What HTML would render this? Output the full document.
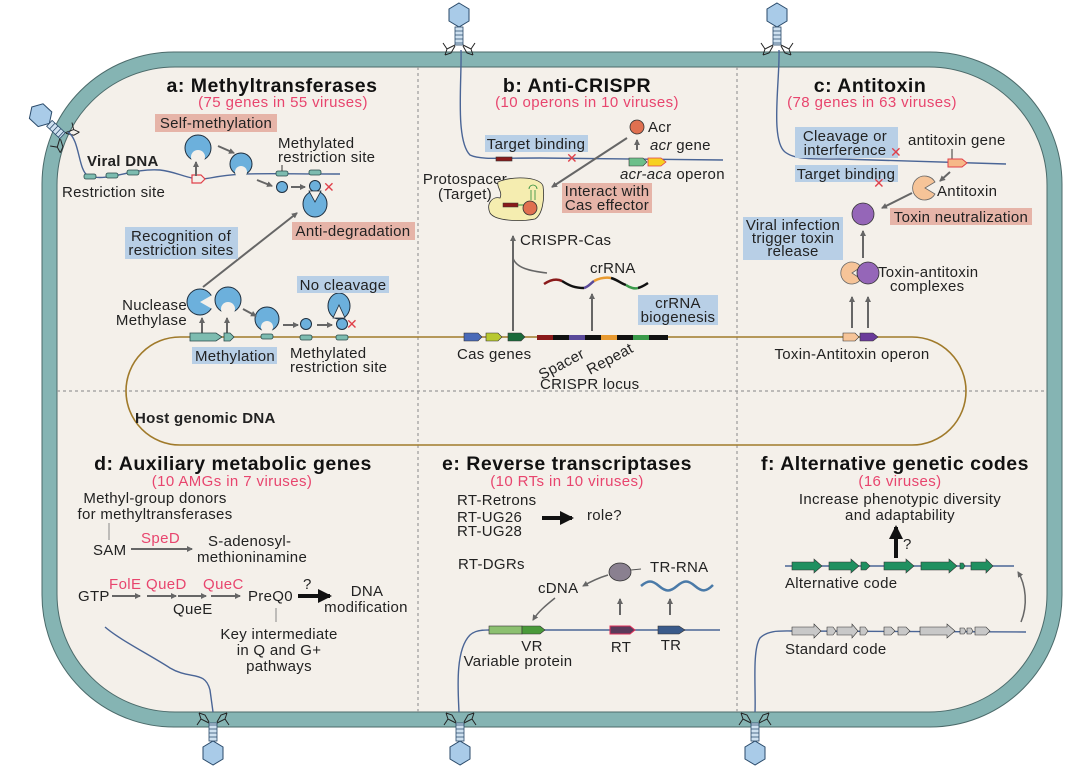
<!DOCTYPE html>
<html><head><meta charset="utf-8"><style>
html,body{margin:0;padding:0;background:#fff}
svg{display:block;font-family:"Liberation Sans",Arial,sans-serif}
.t{font-size:15px;fill:#222;letter-spacing:0.3px}
.h{font-size:19.5px;font-weight:bold;fill:#111;letter-spacing:0.5px}
.r{font-size:15px;fill:#e8456e;letter-spacing:0.4px}
.c{text-anchor:middle}
</style></head><body>
<svg width="1080" height="780" viewBox="0 0 1080 780" xmlns="http://www.w3.org/2000/svg">
<defs>
<marker id="ar" markerWidth="6" markerHeight="6" refX="5" refY="3" orient="auto" markerUnits="userSpaceOnUse"><path d="M0,0 L6,3 L0,6 Z" fill="#666"/></marker>
<marker id="ab" markerWidth="14" markerHeight="14" refX="12" refY="7" orient="auto" markerUnits="userSpaceOnUse"><path d="M0,0 L14,7 L0,14 Z" fill="#111"/></marker>
<g id="phage">
 <polygon points="0,-44 10,-38 10,-26 0,-20 -10,-26 -10,-38" fill="#a9cbe8" stroke="#2a4a6a" stroke-width="1"/>
 <rect x="-4" y="-20" width="8" height="18" fill="#cfe1f0" stroke="#2a4a6a" stroke-width="0.8"/>
 <path d="M-4,-16h8M-4,-12h8M-4,-8h8M-4,-4h8" stroke="#2a4a6a" stroke-width="0.8"/>
 <path d="M-4,-2 L-12,2 L-16,-4 M4,-2 L12,2 L16,-4 M-4,-1 L-8,6 L-14,8 M4,-1 L8,6 L14,8 M-12,2 L-14,8 M12,2 L14,8" stroke="#222" stroke-width="1" fill="none"/>
</g>
</defs>

<rect x="49.5" y="59.5" width="1005" height="660" rx="125" fill="#f4f0ea" stroke="#85b4b3" stroke-width="15"/>
<rect x="42" y="52" width="1020" height="675" rx="132" fill="none" stroke="#4b6a6a" stroke-width="1"/>
<rect x="57" y="67" width="990" height="645" rx="118" fill="none" stroke="#4b6a6a" stroke-width="1"/>

<g stroke="#9a9a9a" stroke-width="1.2" stroke-dasharray="3,3">
<line x1="418" y1="67" x2="418" y2="712"/><line x1="737" y1="67" x2="737" y2="712"/>
<line x1="57" y1="391" x2="1047" y2="391"/></g>

<rect x="126" y="337" width="840" height="108" rx="54" fill="none" stroke="#a07a2a" stroke-width="1.6"/>
<text x="135" y="423" class="t" style="font-weight:bold">Host genomic DNA</text>

<use href="#phage" transform="translate(459,47)"/>
<use href="#phage" transform="translate(777,47)"/>
<use href="#phage" transform="translate(64,137) rotate(-47)"/>
<use href="#phage" transform="translate(213,721) rotate(180)"/>
<use href="#phage" transform="translate(460,721) rotate(180)"/>
<use href="#phage" transform="translate(755,721) rotate(180)"/>

<!-- a -->
<text x="272" y="92" class="h c">a: Methyltransferases</text>
<text x="283" y="107" class="r c">(75 genes in 55 viruses)</text>
<rect x="155" y="114" width="122" height="18" fill="#e6b4a8"/>
<text x="216" y="128" class="t c">Self-methylation</text>
<path d="M68,132 C80,140 78,170 88,176 C110,182 130,168 160,170 C180,172 190,182 210,178 C240,172 260,174 340,174" fill="none" stroke="#4a6596" stroke-width="1.4"/>
<g fill="#7dbcb0" stroke="#2a4a4a" stroke-width="0.8">
<rect x="84" y="174" width="12" height="5" rx="2"/><rect x="106" y="173" width="12" height="5" rx="2"/><rect x="127" y="170" width="12" height="5" rx="2"/>
<rect x="235" y="170" width="12" height="5" rx="2"/><rect x="276" y="171" width="12" height="5" rx="2"/><rect x="309" y="170" width="12" height="5" rx="2"/></g>
<polygon points="192,175 201,175 205,179 201,183 192,183" fill="#f4f0ea" stroke="#e0404a" stroke-width="1.2"/>
<text x="87" y="166" class="t" style="font-weight:bold">Viral DNA</text>
<text x="62" y="197" class="t">Restriction site</text>
<g fill="#6cb0dc" stroke="#1e2e3e" stroke-width="1">
<circle cx="198" cy="148" r="13"/><circle cx="241" cy="164" r="11"/>
<circle cx="282" cy="187" r="5.5"/><circle cx="315" cy="186" r="5.5"/>
<ellipse cx="315" cy="204" rx="12" ry="13"/>
<circle cx="200" cy="302" r="13"/><circle cx="228" cy="300" r="13"/><circle cx="267" cy="319" r="12"/>
<circle cx="306" cy="324" r="5.5"/><circle cx="342" cy="324" r="5.5"/>
<ellipse cx="339" cy="306" rx="11" ry="13"/></g>
<g fill="#f4f0ea"><circle cx="198" cy="157" r="7"/><circle cx="241" cy="172" r="6"/><circle cx="228" cy="309" r="7"/><circle cx="267" cy="327" r="6"/></g>
<polygon points="200,302 214,294 214,310" fill="#f4f0ea"/>
<polygon points="309,191 321,191 315,202" fill="#f4f0ea" stroke="#1e2e3e" stroke-width="0.8"/>
<polygon points="333,318 345,318 339,305" fill="#f4f0ea" stroke="#1e2e3e" stroke-width="0.8"/>
<g stroke="#666" stroke-width="2" fill="none" marker-end="url(#ar)">
<line x1="196" y1="176" x2="196" y2="162"/><line x1="218" y1="146" x2="234" y2="153"/>
<line x1="257" y1="180" x2="272" y2="186"/><line x1="291" y1="187" x2="305" y2="187"/>
<line x1="203" y1="287" x2="297" y2="213"/>
<line x1="202" y1="334" x2="202" y2="318"/><line x1="227" y1="334" x2="227" y2="318"/>
<line x1="243" y1="309" x2="256" y2="316"/><line x1="283" y1="325" x2="298" y2="325"/><line x1="317" y1="325" x2="332" y2="325"/></g>
<text x="278" y="148" class="t">Methylated</text><text x="278" y="162" class="t">restriction site</text>
<path d="M282,165 V171" stroke="#333"/>
<text x="323" y="192" fill="#e0404a" style="font-size:14px">✕</text>
<text x="346" y="329" fill="#e0404a" style="font-size:14px">✕</text>
<rect x="125" y="227" width="113" height="32" fill="#b8cfe6"/>
<text x="181" y="241" class="t c">Recognition of</text><text x="181" y="255" class="t c">restriction sites</text>
<rect x="292" y="222" width="123" height="18" fill="#e6b4a8"/>
<text x="353" y="236" class="t c">Anti-degradation</text>
<text x="187" y="310" class="t" text-anchor="end">Nuclease</text><text x="187" y="325" class="t" text-anchor="end">Methylase</text>
<polygon points="190,333 216,333 222,337 216,341 190,341" fill="#7dbcb0" stroke="#2a4a4a" stroke-width="0.8"/>
<polygon points="224,333 230,333 234,337 230,341 224,341" fill="#7dbcb0" stroke="#2a4a4a" stroke-width="0.8"/>
<g fill="#7dbcb0" stroke="#2a4a4a" stroke-width="0.8"><rect x="261" y="334" width="12" height="5" rx="2"/><rect x="300" y="335" width="12" height="5" rx="2"/><rect x="336" y="335" width="12" height="5" rx="2"/></g>
<rect x="192" y="347" width="85" height="17" fill="#b8cfe6"/>
<text x="235" y="361" class="t c">Methylation</text>
<rect x="297" y="276" width="92" height="17" fill="#b8cfe6"/>
<text x="343" y="290" class="t c">No cleavage</text>
<text x="290" y="358" class="t">Methylated</text><text x="290" y="372" class="t">restriction site</text>

<!-- b -->
<text x="577" y="92" class="h c">b: Anti-CRISPR</text>
<text x="587" y="107" class="r c">(10 operons in 10 viruses)</text>
<path d="M461,50 C462,80 455,140 470,155 C480,160 500,158 540,158 L723,160" fill="none" stroke="#4a6596" stroke-width="1.4"/>
<rect x="496" y="157" width="16" height="4" fill="#8a1a1a" stroke="#333" stroke-width="0.6"/>
<rect x="485" y="135" width="103" height="17" fill="#b8cfe6"/>
<text x="536" y="149" class="t c">Target binding</text>
<text x="566" y="163" fill="#e0404a" style="font-size:14px">✕</text>
<circle cx="637" cy="127" r="7" fill="#e07050" stroke="#333" stroke-width="0.8"/>
<text x="648" y="132" class="t">Acr</text>
<line x1="637" y1="150" x2="637" y2="140" stroke="#666" stroke-width="2" marker-end="url(#ar)"/>
<text x="650" y="150" class="t"><tspan font-style="italic">acr</tspan> gene</text>
<polygon points="629,158 643,158 647,162 643,166 629,166" fill="#6cbf8a" stroke="#333" stroke-width="0.6"/>
<polygon points="648,158 661,158 666,162 661,166 648,166" fill="#f7d020" stroke="#e0404a" stroke-width="0.8"/>
<text x="620" y="179" class="t"><tspan font-style="italic">acr-aca</tspan> operon</text>
<line x1="627" y1="138" x2="552" y2="187" stroke="#666" stroke-width="2" marker-end="url(#ar)"/>
<text x="465" y="184" class="t c">Protospacer</text><text x="465" y="199" class="t c">(Target)</text>
<path d="M498,182 C510,176 540,176 543,186 C545,200 542,215 535,219 C520,222 495,221 490,213 C486,204 492,196 500,198 C503,192 496,186 498,182 Z" fill="#f5edb0" stroke="#333" stroke-width="0.8"/>
<rect x="503" y="203" width="15" height="4" fill="#8a1a1a" stroke="#333" stroke-width="0.5"/>
<line x1="518" y1="205" x2="524" y2="205" stroke="#2a8a3a"/>
<path d="M531,200 V190 M535,200 V190 M533,189 m-4,0 a4,4 0 1,1 8,0" stroke="#2a8a3a" fill="none" stroke-width="0.8"/>
<circle cx="530" cy="208" r="7" fill="#e07050" stroke="#333" stroke-width="0.8"/>
<rect x="562" y="183" width="90" height="30" fill="#e6b4a8"/>
<text x="607" y="196" class="t c">Interact with</text><text x="607" y="210" class="t c">Cas effector</text>
<text x="520" y="245" class="t">CRISPR-Cas</text>
<line x1="513" y1="331" x2="513" y2="236" stroke="#666" stroke-width="2" marker-end="url(#ar)"/>
<path d="M513,258 C516,268 530,271 547,273" fill="none" stroke="#666" stroke-width="1.5"/>
<path d="M544,284 C550,280 556,278 562,281" stroke="#8a1a1a" stroke-width="2.5" fill="none"/>
<path d="M562,281 C570,286 575,288 584,288" stroke="#111" stroke-width="2.5" fill="none"/>
<path d="M584,288 C588,287 590,284 594,281" stroke="#5a4a9a" stroke-width="2.5" fill="none"/>
<path d="M594,281 C600,278 605,277 611,278" stroke="#e89a30" stroke-width="2.5" fill="none"/>
<path d="M611,278 C618,280 620,283 626,285" stroke="#111" stroke-width="2.5" fill="none"/>
<path d="M626,285 C630,288 635,289 638,288" stroke="#3a9a4a" stroke-width="2.5" fill="none"/>
<path d="M638,288 C642,287 645,285 648,283" stroke="#111" stroke-width="2.5" fill="none"/>
<text x="590" y="273" class="t">crRNA</text>
<line x1="592" y1="331" x2="592" y2="294" stroke="#666" stroke-width="2" marker-end="url(#ar)"/>
<rect x="638" y="295" width="80" height="30" fill="#b8cfe6"/>
<text x="678" y="308" class="t c">crRNA</text><text x="678" y="322" class="t c">biogenesis</text>
<polygon points="464,333 478,333 482,337 478,341 464,341" fill="#4a6ab8" stroke="#333" stroke-width="0.6"/>
<polygon points="486,333 498,333 502,337 498,341 486,341" fill="#b8c830" stroke="#333" stroke-width="0.6"/>
<polygon points="508,333 521,333 525,337 521,341 508,341" fill="#1a6a3a" stroke="#333" stroke-width="0.6"/>
<rect x="537" y="335" width="16" height="5" fill="#8a1a1a"/><rect x="553" y="335" width="16" height="5" fill="#111"/>
<rect x="569" y="335" width="16" height="5" fill="#5a4a9a"/><rect x="585" y="335" width="16" height="5" fill="#111"/>
<rect x="601" y="335" width="16" height="5" fill="#e89a30"/><rect x="617" y="335" width="16" height="5" fill="#111"/>
<rect x="633" y="335" width="16" height="5" fill="#3a9a4a"/><rect x="649" y="335" width="19" height="5" fill="#111"/>
<text x="457" y="359" class="t">Cas genes</text>
<text transform="translate(542,380) rotate(-28)" class="t">Spacer</text>
<text transform="translate(590,375) rotate(-28)" class="t">Repeat</text>
<text x="540" y="389" class="t">CRISPR locus</text>

<!-- c -->
<text x="870" y="92" class="h c">c: Antitoxin</text>
<text x="872" y="107" class="r c">(78 genes in 63 viruses)</text>
<path d="M779,50 C780,80 770,140 785,152 C795,160 815,159 840,159 L1006,164" fill="none" stroke="#4a6596" stroke-width="1.4"/>
<rect x="795" y="127" width="103" height="31" fill="#b8cfe6"/>
<text x="845" y="141" class="t c">Cleavage or</text><text x="845" y="155" class="t c">interference</text>
<text x="890" y="157" fill="#e0404a" style="font-size:14px">✕</text>
<text x="908" y="145" class="t">antitoxin gene</text>
<path d="M952,149 V159" stroke="#333"/>
<polygon points="948,159 962,159 967,163 962,167 948,167" fill="#f6b888" stroke="#e0404a" stroke-width="1"/>
<rect x="795" y="165" width="103" height="17" fill="#b8cfe6"/>
<text x="846" y="179" class="t c">Target binding</text>
<text x="873" y="188" fill="#e0404a" style="font-size:14px">✕</text>
<line x1="950" y1="172" x2="940" y2="181" stroke="#666" stroke-width="2" marker-end="url(#ar)"/>
<path d="M925,188 L935,182 A12,12 0 1,0 935,194 Z" fill="#f6c498" stroke="#666" stroke-width="0.8"/>
<text x="937" y="196" class="t">Antitoxin</text>
<line x1="912" y1="193" x2="882" y2="208" stroke="#666" stroke-width="2" marker-end="url(#ar)"/>
<circle cx="863" cy="214" r="11" fill="#9566b8" stroke="#333" stroke-width="0.8"/>
<rect x="890" y="208" width="142" height="17" fill="#e6b4a8"/>
<text x="961" y="222" class="t c">Toxin neutralization</text>
<rect x="743" y="217" width="100" height="43" fill="#b8cfe6"/>
<text x="793" y="230" class="t c">Viral infection</text><text x="793" y="243" class="t c">trigger toxin</text><text x="793" y="256" class="t c">release</text>
<line x1="863" y1="258" x2="863" y2="231" stroke="#666" stroke-width="2" marker-end="url(#ar)"/>
<path d="M852,273 L861,267 A11,11 0 1,0 861,279 Z" fill="#f6c498" stroke="#666" stroke-width="0.8"/>
<circle cx="868" cy="273" r="11" fill="#9566b8" stroke="#333" stroke-width="0.8"/>
<text x="878" y="277" class="t">Toxin-antitoxin</text><text x="890" y="291" class="t">complexes</text>
<line x1="852" y1="328" x2="852" y2="297" stroke="#666" stroke-width="2" marker-end="url(#ar)"/>
<line x1="868" y1="328" x2="868" y2="297" stroke="#666" stroke-width="2" marker-end="url(#ar)"/>
<polygon points="843,333 855,333 859,337 855,341 843,341" fill="#f6c498" stroke="#333" stroke-width="0.6"/>
<polygon points="860,333 873,333 878,337 873,341 860,341" fill="#6a3a9a" stroke="#333" stroke-width="0.6"/>
<text x="852" y="359" class="t c">Toxin-Antitoxin operon</text>

<!-- d -->
<text x="233" y="470" class="h c">d: Auxiliary metabolic genes</text>
<text x="232" y="486" class="r c">(10 AMGs in 7 viruses)</text>
<text x="155" y="503" class="t c">Methyl-group donors</text>
<text x="155" y="519" class="t c">for methyltransferases</text>
<line x1="109" y1="523" x2="109" y2="540" stroke="#888"/>
<text x="93" y="555" class="t">SAM</text>
<line x1="131" y1="549" x2="192" y2="549" stroke="#666" stroke-width="2" marker-end="url(#ar)"/>
<text x="141" y="543" class="r">SpeD</text>
<text x="208" y="546" class="t">S-adenosyl-</text><text x="197" y="562" class="t">methioninamine</text>
<text x="78" y="601" class="t">GTP</text>
<g stroke="#666" stroke-width="2" marker-end="url(#ar)">
<line x1="112" y1="596" x2="140" y2="596"/><line x1="147" y1="596" x2="176" y2="596"/>
<line x1="178" y1="596" x2="206" y2="596"/><line x1="211" y1="596" x2="240" y2="596"/></g>
<text x="109" y="589" class="r">FolE</text><text x="146" y="589" class="r">QueD</text><text x="203" y="589" class="r">QueC</text>
<text x="173" y="614" class="t">QueE</text>
<text x="248" y="601" class="t">PreQ0</text>
<line x1="298" y1="596" x2="330" y2="596" stroke="#111" stroke-width="4" marker-end="url(#ab)"/>
<text x="303" y="589" class="t">?</text>
<text x="367" y="596" class="t c">DNA</text><text x="366" y="612" class="t c">modification</text>
<line x1="276" y1="608" x2="276" y2="622" stroke="#888"/>
<text x="279" y="639" class="t c">Key intermediate</text><text x="279" y="655" class="t c">in Q and G+</text><text x="279" y="671" class="t c">pathways</text>
<path d="M105,627 C120,640 150,655 170,668 C190,680 205,670 210,690 L213,712" fill="none" stroke="#4a6596" stroke-width="1.4"/>

<!-- e -->
<text x="567" y="470" class="h c">e: Reverse transcriptases</text>
<text x="567" y="486" class="r c">(10 RTs in 10 viruses)</text>
<text x="457" y="505" class="t">RT-Retrons</text>
<text x="457" y="522" class="t">RT-UG26</text><text x="457" y="536" class="t">RT-UG28</text>
<line x1="542" y1="518" x2="572" y2="518" stroke="#111" stroke-width="4" marker-end="url(#ab)"/>
<text x="587" y="520" class="t">role?</text>
<text x="458" y="569" class="t">RT-DGRs</text>
<ellipse cx="620" cy="572" rx="11" ry="9" fill="#8a8090" stroke="#333" stroke-width="0.8"/>
<line x1="631" y1="570" x2="641" y2="569" stroke="#555"/>
<text x="650" y="572" class="t">TR-RNA</text>
<path d="M641,586 C648,580 652,580 659,586 C666,592 670,592 677,586 C684,580 688,580 695,586 C702,592 706,592 713,585" fill="none" stroke="#4a7aa8" stroke-width="2.5"/>
<path d="M608,575 C598,578 590,582 583,586" fill="none" stroke="#666" stroke-width="1.5" marker-end="url(#ar)"/>
<text x="538" y="593" class="t">cDNA</text>
<path d="M555,598 C545,606 538,612 533,620" fill="none" stroke="#666" stroke-width="1.5" marker-end="url(#ar)"/>
<path d="M459,712 C458,690 455,650 470,635 C478,628 485,630 545,630 L720,630" fill="none" stroke="#4a6596" stroke-width="1.4"/>
<rect x="489" y="626" width="33" height="8" fill="#8cc070" stroke="#333" stroke-width="0.6"/>
<polygon points="522,626 540,626 545,630 540,634 522,634" fill="#4a9a3a" stroke="#333" stroke-width="0.6"/>
<polygon points="610,626 630,626 635,630 630,634 610,634" fill="#5a3a5a" stroke="#e0305a" stroke-width="1"/>
<polygon points="658,626 679,626 685,630 679,634 658,634" fill="#3a5a8a" stroke="#333" stroke-width="0.6"/>
<line x1="620" y1="615" x2="620" y2="599" stroke="#666" stroke-width="2" marker-end="url(#ar)"/>
<line x1="670" y1="615" x2="670" y2="599" stroke="#666" stroke-width="2" marker-end="url(#ar)"/>
<text x="532" y="651" class="t c">VR</text><text x="518" y="666" class="t c">Variable protein</text>
<text x="621" y="652" class="t c">RT</text><text x="671" y="650" class="t c">TR</text>

<!-- f -->
<text x="895" y="470" class="h c">f: Alternative genetic codes</text>
<text x="900" y="486" class="r c">(16 viruses)</text>
<text x="900" y="504" class="t c">Increase phenotypic diversity</text>
<text x="900" y="520" class="t c">and adaptability</text>
<line x1="896" y1="558" x2="896" y2="527" stroke="#111" stroke-width="4" marker-end="url(#ab)"/>
<text x="903" y="549" class="t">?</text>
<line x1="785" y1="566" x2="1014" y2="566" stroke="#4a6596" stroke-width="1.4"/>
<g fill="#1f9060" stroke="#333" stroke-width="0.6">
<polygon points="792,562 814,562 814,559 822,566 814,573 814,570 792,570"/>
<polygon points="829,562 851,562 851,559 859,566 851,573 851,570 829,570"/>
<polygon points="861,562 866,562 870,566 866,570 861,570"/>
<polygon points="884,562 906,562 906,559 914,566 906,573 906,570 884,570"/>
<polygon points="921,562 949,562 949,559 957,566 949,573 949,570 921,570"/>
<polygon points="960,563 963,563 965,566 963,569 960,569"/>
<polygon points="971,562 986,562 986,559 993,566 986,573 986,570 971,570"/></g>
<text x="785" y="588" class="t">Alternative code</text>
<path d="M1021,622 C1028,605 1026,585 1018,572" fill="none" stroke="#666" stroke-width="1.5" marker-end="url(#ar)"/>
<path d="M755,712 C756,690 752,650 760,638 C768,630 780,631 792,631 L1026,632" fill="none" stroke="#4a6596" stroke-width="1.4"/>
<g fill="#c8c8c8" stroke="#333" stroke-width="0.6">
<polygon points="792,627 814,627 814,624 821,631 814,638 814,635 792,635"/>
<polygon points="827,627 833,627 836,631 833,635 827,635"/>
<polygon points="837,627 852,627 852,624 858,631 852,638 852,635 837,635"/>
<polygon points="860,627 865,627 868,631 865,635 860,635"/>
<polygon points="884,627 891,627 895,631 891,635 884,635"/>
<polygon points="898,627 906,627 910,631 906,635 898,635"/>
<polygon points="920,627 947,627 947,624 955,631 947,638 947,635 920,635"/>
<polygon points="960,628 964,628 966,631 964,634 960,634"/>
<polygon points="967,628 971,628 973,631 971,634 967,634"/>
<polygon points="975,627 986,627 990,631 986,635 975,635"/></g>
<text x="785" y="654" class="t">Standard code</text>
</svg>
</body></html>
